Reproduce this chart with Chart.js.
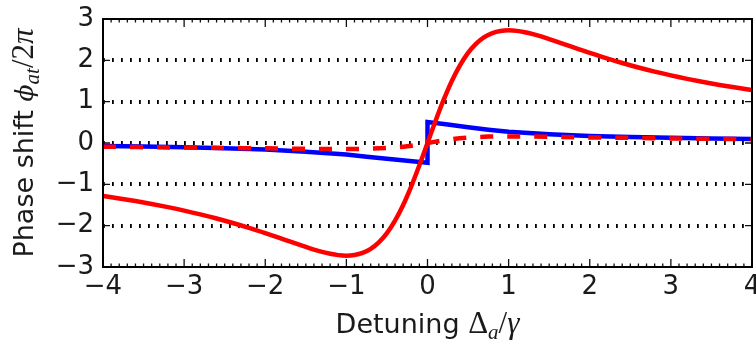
<!DOCTYPE html>
<html><head><meta charset="utf-8">
<script src="https://cdn.jsdelivr.net/npm/chart.js@4.4.0/dist/chart.umd.min.js"></script>
<style>html,body{margin:0;padding:0;background:#fff;}</style>
</head><body>
<canvas id="c" width="756" height="345"></canvas>
<script>
// ---- data ----
const redX = [-4,-3.8,-3.6,-3.4,-3.2,-3,-2.8,-2.6,-2.4,-2.2,-2,-1.9,-1.8,-1.7,-1.6,-1.5,-1.4,-1.3,-1.2,-1.1,-1,-0.9,-0.8,-0.7,-0.6,-0.5,-0.4,-0.3,-0.2,-0.1,0,0.1,0.2,0.3,0.4,0.5,0.6,0.7,0.8,0.9,1,1.1,1.2,1.3,1.4,1.5,1.6,1.7,1.8,1.9,2,2.2,2.4,2.6,2.8,3,3.2,3.4,3.6,3.8,4];
const redY = [-1.282,-1.341,-1.405,-1.475,-1.552,-1.635,-1.726,-1.826,-1.935,-2.053,-2.180,-2.246,-2.314,-2.382,-2.449,-2.515,-2.578,-2.634,-2.680,-2.713,-2.725,-2.710,-2.659,-2.560,-2.404,-2.180,-1.879,-1.500,-1.048,-0.540,0,0.540,1.048,1.500,1.879,2.180,2.404,2.560,2.659,2.710,2.725,2.713,2.680,2.634,2.578,2.515,2.449,2.382,2.314,2.246,2.180,2.053,1.935,1.826,1.726,1.635,1.552,1.475,1.405,1.341,1.282];
const blueX = [-4,-3.5,-3,-2.5,-2,-1.5,-1,-0.75,-0.5,-0.25,0,0,0.25,0.5,0.75,1,1.5,2,2.5,3,3.5,4];
const blueY = [-0.07,-0.085,-0.10,-0.13,-0.16,-0.21,-0.28,-0.33,-0.38,-0.43,-0.48,0.51,0.45,0.38,0.32,0.27,0.21,0.17,0.145,0.125,0.11,0.095];
const dashX = [-4,-3.5,-3,-2.5,-2,-1.5,-1,-0.75,-0.5,-0.25,0,0.25,0.5,0.75,1,1.5,2,2.5,3,3.5,4];
const dashY = [-0.09,-0.10,-0.11,-0.12,-0.13,-0.14,-0.145,-0.14,-0.12,-0.08,0,0.08,0.13,0.155,0.16,0.15,0.135,0.125,0.11,0.10,0.09];
const xTicks = [-4,-3,-2,-1,0,1,2,3,4];
const yTicks = [-3,-2,-1,0,1,2,3];
const gridYValues = [-2,-1,0,1,2];

const pts = (xs, ys) => xs.map((x, i) => ({x, y: ys[i]}));
const fmt = v => (v < 0 ? '\u2212' + Math.abs(v) : String(v));

const SANS = '"DejaVu Sans"';
const SERIF = '"Liberation Serif", "DejaVu Serif"';
const DSERIF = '"DejaVu Serif"';

function drawRich(ctx, parts, cx, baseY) {
  let w = 0;
  parts.forEach(p => { ctx.font = p.f; p.w = ctx.measureText(p.t).width; w += p.w + (p.sp || 0); });
  let x = cx - w / 2;
  ctx.textAlign = 'left';
  ctx.textBaseline = 'alphabetic';
  parts.forEach(p => { ctx.font = p.f; ctx.fillText(p.t, x, baseY + (p.dy || 0)); x += p.w + (p.sp || 0); });
}

const decor = {
  id: 'decor',
  beforeDatasetsDraw(chart) {
    const {ctx, chartArea: a, scales: {y}} = chart;
    ctx.save();
    ctx.strokeStyle = '#000';
    ctx.lineWidth = 4;
    ctx.setLineDash([1.8, 7.2]);
    gridYValues.forEach(v => {
      const py = Math.round(y.getPixelForValue(v));
      ctx.beginPath(); ctx.moveTo(a.left, py); ctx.lineTo(a.right, py); ctx.stroke();
    });
    ctx.restore();
  },
  afterDatasetsDraw(chart) {
    const {ctx, chartArea: a, scales: {x, y}} = chart;
    ctx.save();
    ctx.strokeStyle = '#111';
    ctx.lineWidth = 1.3;
    ctx.beginPath();
    for (let i = -40; i <= 40; i++) {
      const px = x.getPixelForValue(i / 10);
      const len = (i % 10 === 0) ? 8 : 3.5;
      ctx.moveTo(px, a.bottom); ctx.lineTo(px, a.bottom - len);
      ctx.moveTo(px, a.top); ctx.lineTo(px, a.top + len);
    }
    yTicks.forEach(v => {
      const py = y.getPixelForValue(v);
      ctx.moveTo(a.left, py); ctx.lineTo(a.left + 7, py);
      ctx.moveTo(a.right, py); ctx.lineTo(a.right - 7, py);
    });
    ctx.stroke();
    ctx.lineWidth = 2;
    ctx.strokeStyle = '#000';
    ctx.strokeRect(a.left, a.top, a.right - a.left, a.bottom - a.top);
    ctx.restore();
  },
  afterDraw(chart) {
    const {ctx, chartArea: a} = chart;
    ctx.save();
    ctx.fillStyle = '#1a1a1a';
    drawRich(ctx, [
      {t: 'Detuning ', f: '27px ' + SANS},
      {t: '\u0394', f: '31px ' + SERIF},
      {t: 'a', f: 'italic 21px ' + SERIF, dy: 6},
      {t: '/', f: '31px ' + SERIF},
      {t: '\u03B3', f: 'italic 31px ' + SERIF}
    ], (a.left + a.right) / 2, 333);
    ctx.translate(33, (a.top + a.bottom) / 2);
    ctx.rotate(-Math.PI / 2);
    drawRich(ctx, [
      {t: 'Phase shift ', f: '27px ' + SANS},
      {t: '\u03D5', f: 'italic 25px ' + DSERIF},
      {t: 'at', f: 'italic 21px ' + SERIF, dy: 6},
      {t: '/2', f: '31px ' + SERIF},
      {t: '\u03C0', f: 'italic 31px ' + SERIF}
    ], 0, 0);
    ctx.restore();
  }
};

new Chart(document.getElementById('c'), {
  type: 'line',
  data: {
    datasets: [
      {label: 'red', data: pts(redX, redY), borderColor: '#ff0000', borderWidth: 4.5, pointRadius: 0, cubicInterpolationMode: 'monotone', order: 0},
      {label: 'red dashed', data: pts(dashX, dashY), borderColor: '#ff0000', borderWidth: 4.5, borderDash: [13, 14], pointRadius: 0, cubicInterpolationMode: 'monotone', order: 1},
      {label: 'blue', data: pts(blueX, blueY), borderColor: '#0000ff', borderWidth: 4.5, pointRadius: 0, tension: 0, order: 2}
    ]
  },
  options: {
    responsive: false,
    devicePixelRatio: 1,
    animation: false,
    layout: {padding: {top: 19, right: 4, left: 0, bottom: 0}},
    plugins: {legend: {display: false}, tooltip: {enabled: false}},
    scales: {
      x: {
        type: 'linear', min: -4, max: 4,
        afterBuildTicks: s => { s.ticks = xTicks.map(v => ({value: v})); },
        ticks: {font: {family: 'DejaVu Sans', size: 26}, color: '#1a1a1a', padding: 5, maxRotation: 0, autoSkip: false, callback: v => fmt(v)},
        grid: {display: false, drawTicks: false},
        border: {display: false},
        afterFit: s => { s.height = 78; s.paddingLeft = 0; s.paddingRight = 0; }
      },
      y: {
        type: 'linear', min: -3, max: 3,
        afterBuildTicks: s => { s.ticks = yTicks.map(v => ({value: v})); },
        ticks: {font: {family: 'DejaVu Sans', size: 26}, color: '#1a1a1a', padding: 9, autoSkip: false, callback: v => fmt(v)},
        grid: {display: false, drawTicks: false},
        border: {display: false},
        afterFit: s => { s.width = 103; s.paddingTop = 0; s.paddingBottom = 0; }
      }
    }
  },
  plugins: [decor]
});
</script>
</body></html>
